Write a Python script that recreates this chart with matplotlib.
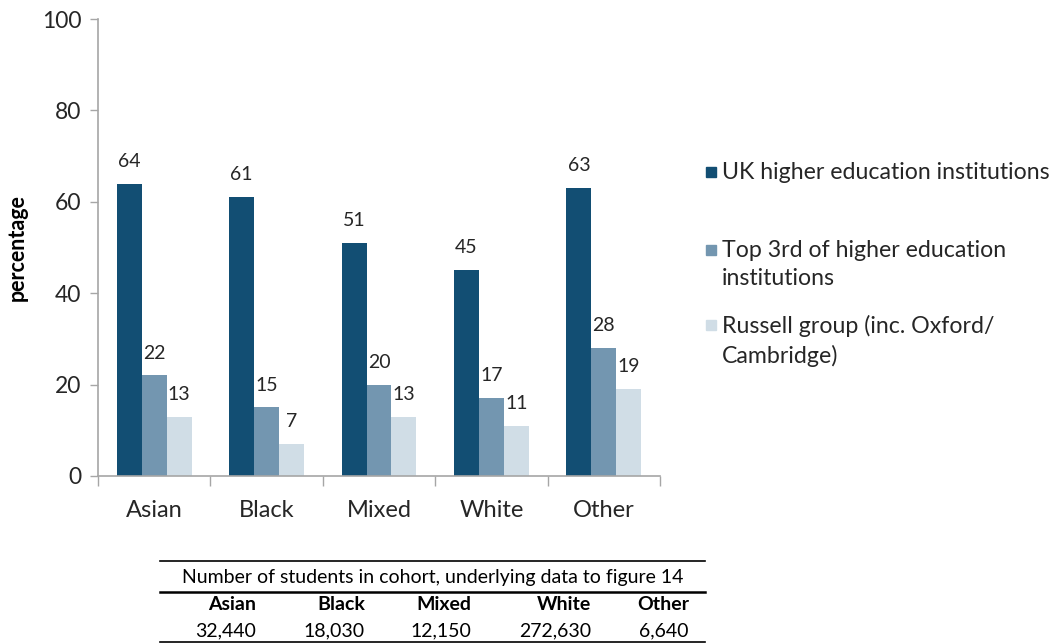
import matplotlib
matplotlib.use("Agg")
import matplotlib.pyplot as plt
from matplotlib.patches import Rectangle
from matplotlib.lines import Line2D
import numpy as np

plt.rcParams['font.family'] = ['Lato', 'DejaVu Sans']

groups = ['Asian', 'Black', 'Mixed', 'White', 'Other']
series_names = ['UK higher education institutions',
                'Top 3rd of higher education\ninstitutions',
                'Russell group (inc. Oxford/\nCambridge)']
uk_he = [64, 61, 51, 45, 63]
top_third = [22, 15, 20, 17, 28]
russell = [13, 7, 13, 11, 19]
series_colors = ['#124e73', '#7396b0', '#d0dde6']

table_title = 'Number of students in cohort, underlying data to figure 14'
cohort_sizes = ['32,440', '18,030', '12,150', '272,630', '6,640']

W, H = 1057, 644
fig = plt.figure(figsize=(W / 100, H / 100), dpi=100)
ax = fig.add_axes([98 / W, 1 - 476 / H, 562 / W, 457 / H])

x = np.arange(len(groups))
bw = 0.222
for i, (vals, col) in enumerate(zip([uk_he, top_third, russell], series_colors)):
    pos = x + (i - 1) * bw
    ax.bar(pos, vals, width=bw, color=col, edgecolor='none')
    for px, v in zip(pos, vals):
        ax.annotate(str(v), (px, v), xytext=(0, 10), textcoords='offset points',
                    ha='center', va='bottom', fontsize=14, color='#262626')

ax.set_xlim(-0.5, len(groups) - 0.5)
ax.set_ylim(0, 100)
ax.set_yticks(range(0, 101, 20))
ax.tick_params(axis='y', length=6, width=1, color='#a6a6a6', labelsize=16.5,
               labelcolor='#262626', pad=6)
ax.set_xticks(np.arange(-0.5, len(groups), 1.0))
ax.set_xticklabels([])
ax.tick_params(axis='x', which='major', length=7, width=1, color='#a6a6a6')
ax.set_xticks(x, minor=True)
ax.set_xticklabels(groups, minor=True)
ax.tick_params(axis='x', which='minor', length=0, labelsize=17,
               labelcolor='#262626', pad=17)
for s in ['top', 'right']:
    ax.spines[s].set_visible(False)
for s in ['left', 'bottom']:
    ax.spines[s].set_color('#a6a6a6')
    ax.spines[s].set_linewidth(1.2)
ax.set_ylabel('percentage', fontsize=15.5, fontweight='bold', labelpad=10)

# legend on the right
leg_y = [172, 250, 325]
for name, col, ly in zip(series_names, series_colors, leg_y):
    fig.patches.append(Rectangle((706 / W, 1 - (ly + 5) / H), 10 / W, 10 / H,
                                 transform=fig.transFigure, color=col))
    fig.text(722 / W, 1 - (ly - 10) / H, name, fontsize=16.7, color='#262626',
             va='top', ha='left', linespacing=1.42)

# cohort table under the chart
def hline(y, lw):
    fig.add_artist(Line2D([160 / W, 705 / W], [1 - y / H, 1 - y / H],
                          transform=fig.transFigure, color='black', lw=lw))

hline(561, 1.2)
hline(592, 1.8)
hline(642, 1.2)
fig.text(433 / W, 1 - 577 / H, table_title, fontsize=14, ha='center',
         va='center', color='black')
col_right = [256, 365, 471, 591, 689]
for g, n, cx in zip(groups, cohort_sizes, col_right):
    fig.text(cx / W, 1 - 604 / H, g, fontsize=14, fontweight='bold',
             ha='right', va='center', color='black')
    fig.text(cx / W, 1 - 631 / H, n, fontsize=14, ha='right', va='center',
             color='black')

fig.savefig('out.png', dpi=100)
